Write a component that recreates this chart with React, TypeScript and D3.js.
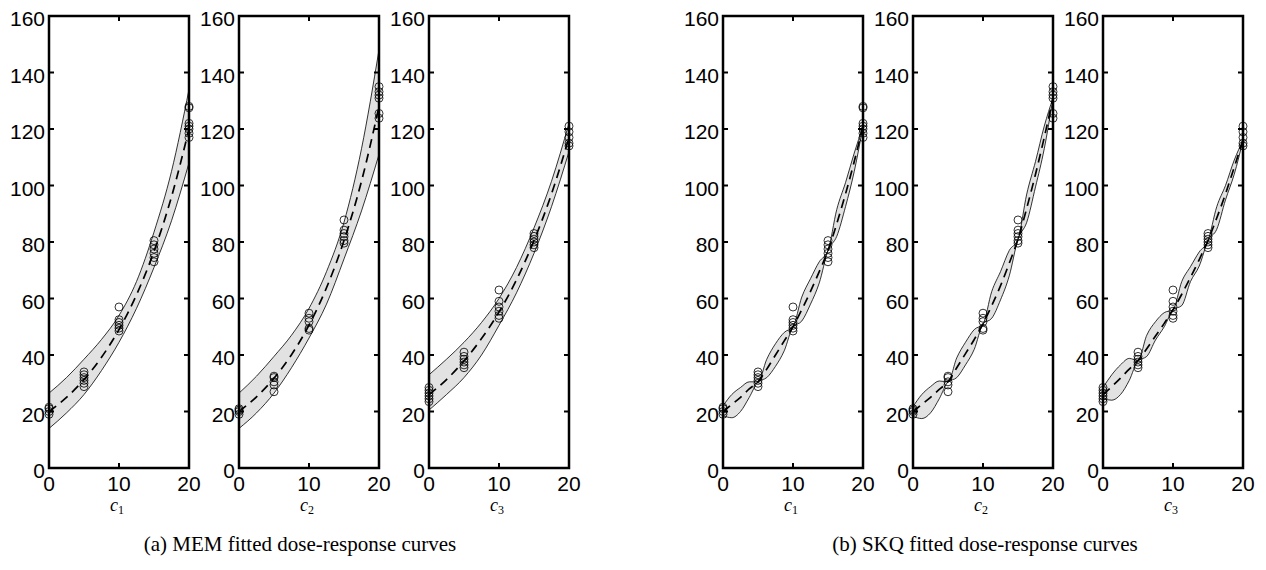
import React, { useRef, useEffect } from "react";
import * as d3 from "d3";

// observation doses
const doses = [0, 5, 10, 15, 20];

// observed responses per dose, one list per component
const obsC1 = [
  [19, 20, 21, 21.5],
  [28.8, 30, 31, 32, 33, 34],
  [48.5, 49.5, 50.5, 51.5, 52.5, 57],
  [73, 74.5, 76, 77.5, 79, 80.5],
  [117, 118.5, 120, 121, 122, 127.5, 128],
];
const obsC2 = [
  [19, 20, 20.5, 21],
  [27, 29.4, 30.5, 32, 32.5],
  [48.8, 49.4, 51.8, 53, 54.8],
  [79.6, 80.5, 81.9, 83, 84.2, 87.8],
  [123.8, 125.5, 130.9, 132, 133.2, 135],
];
const obsC3 = [
  [23.5, 24.5, 25.5, 26.5, 27.5, 28.5],
  [35.5, 36.5, 37.5, 38.5, 39.5, 41],
  [53, 54, 55.5, 57, 59, 63],
  [78, 79, 80, 81, 82, 83],
  [114, 115, 117, 119, 121],
];

// MEM fit, sampled at memX
const memX = [0, 2.5, 5, 7.5, 10, 12.5, 15, 17.5, 20];
const memMeanC1 = [20, 25, 31.3, 39.2, 49, 61.3, 76.7, 96, 120];
const memUpC1 = [26.5, 32, 38.5, 45.5, 54, 66, 83.5, 105, 134];
const memLoC1 = [14, 19.5, 26, 34.5, 44.5, 56.5, 71, 87.5, 108];
const memMeanC2 = [20, 25.2, 31.8, 40.1, 50.6, 63.8, 80.5, 101.5, 128];
const memUpC2 = [26.5, 32.5, 39.5, 47, 56.5, 69.5, 87, 113, 148];
const memLoC2 = [14, 19.5, 26.5, 35.5, 46, 58, 74, 91, 111];
const memMeanC3 = [26, 31.3, 37.9, 45.8, 55.2, 66.6, 80.5, 97, 117];
const memUpC3 = [33, 38.5, 44.5, 51.5, 60, 71, 85, 101.5, 122];
const memLoC3 = [20.5, 26, 32, 40, 50.5, 62, 76, 92.5, 112];

// SKQ fit, sampled at skqX
const skqX = [0, 1.25, 2.5, 3.75, 5, 6.25, 7.5, 8.75, 10, 11.25, 12.5, 13.75, 15, 16.25, 17.5, 18.75, 20];
const skqMeanC1 = [20, 22.5, 25, 28, 30.5, 35, 40, 45, 50, 56, 62.5, 69.5, 77, 86.5, 97, 108.5, 121];
const skqUpC1 = [22, 26, 28.5, 30.5, 30.5, 38.5, 44, 48, 50, 60.5, 67, 73, 77, 91.5, 101, 111.5, 121];
const skqLoC1 = [18.5, 17.8, 20, 25, 30.5, 32, 36, 41.5, 50, 52, 58, 65.5, 77, 82, 92.5, 105, 121];
const skqMeanC2 = [20, 22.5, 25, 27.8, 30.5, 35.5, 40.5, 45.5, 51, 57.5, 64.5, 72.5, 81, 92, 104, 117, 131];
const skqUpC2 = [21.7, 26, 28.8, 30.8, 30.5, 39, 44.5, 49, 51, 62.5, 69.5, 77, 81, 97, 108.5, 121, 131];
const skqLoC2 = [18.3, 17.5, 19.5, 24.5, 30.5, 32, 36.5, 42, 51, 53, 59.5, 68, 81, 87, 99.5, 113, 131];
const skqMeanC3 = [26, 28.8, 31.8, 35, 38, 42.2, 46.7, 51.2, 56, 61.5, 67.5, 73.8, 80.5, 88.5, 97, 106.5, 116];
const skqUpC3 = [28.5, 33, 36.5, 38.8, 38, 47, 51.8, 55, 56, 66, 71.3, 76.5, 80.5, 92.5, 100, 109, 116];
const skqLoC3 = [24.5, 24, 26, 31, 38, 39.5, 45.3, 50, 56, 57.5, 66, 71.5, 80.5, 84.5, 94.9, 104, 116];

const yTicks = [0, 20, 40, 60, 80, 100, 120, 140, 160];
const xTicks = [0, 10, 20];
const captions = ["(a) MEM fitted dose-response curves", "(b) SKQ fitted dose-response curves"];

const panels = [
  { left: 49, label: "1", obs: obsC1, gx: memX, mean: memMeanC1, up: memUpC1, lo: memLoC1 },
  { left: 239, label: "2", obs: obsC2, gx: memX, mean: memMeanC2, up: memUpC2, lo: memLoC2 },
  { left: 429, label: "3", obs: obsC3, gx: memX, mean: memMeanC3, up: memUpC3, lo: memLoC3 },
  { left: 723, label: "1", obs: obsC1, gx: skqX, mean: skqMeanC1, up: skqUpC1, lo: skqLoC1 },
  { left: 913, label: "2", obs: obsC2, gx: skqX, mean: skqMeanC2, up: skqUpC2, lo: skqLoC2 },
  { left: 1103, label: "3", obs: obsC3, gx: skqX, mean: skqMeanC3, up: skqUpC3, lo: skqLoC3 },
];

const TOP = 16;
const BOTTOM = 468;
const PW = 140;
const TICK = 5;
const SANS = "'Liberation Sans', Arial, Helvetica, sans-serif";
const SERIF = "'Liberation Serif', 'Times New Roman', serif";

const drawChart = (element) => {
  document.body.style.margin = "0";
  const svg = d3
    .select(element)
    .append("svg")
    .attr("width", 1266)
    .attr("height", 570)
    .style("display", "block")
    .style("background", "#fff");

  const y = d3.scaleLinear().domain([0, 160]).range([BOTTOM, TOP]);

  panels.forEach((p) => {
    const x = d3.scaleLinear().domain([0, 20]).range([p.left, p.left + PW]);
    const g = svg.append("g");
    const pts = p.gx.map((v, j) => ({ x: v, m: p.mean[j], u: p.up[j], l: p.lo[j] }));

    const area = d3
      .area()
      .x((d) => x(d.x))
      .y0((d) => y(d.l))
      .y1((d) => y(d.u))
      .curve(d3.curveMonotoneX);
    g.append("path").datum(pts).attr("d", area).attr("fill", "#e2e2e2").attr("stroke", "none");

    const edge = (key) =>
      d3
        .line()
        .x((d) => x(d.x))
        .y((d) => y(d[key]))
        .curve(d3.curveMonotoneX);
    ["u", "l"].forEach((k) =>
      g.append("path").datum(pts).attr("d", edge(k)).attr("fill", "none").attr("stroke", "#000").attr("stroke-width", 0.8)
    );
    g.append("path")
      .datum(pts)
      .attr("d", edge("m"))
      .attr("fill", "none")
      .attr("stroke", "#000")
      .attr("stroke-width", 1.7)
      .attr("stroke-dasharray", "9,6");

    p.obs.forEach((vals, j) => {
      vals.forEach((v) => {
        g.append("circle")
          .attr("cx", x(doses[j]))
          .attr("cy", y(v))
          .attr("r", 4)
          .attr("fill", "none")
          .attr("stroke", "#000")
          .attr("stroke-width", 0.8);
      });
    });

    // frame
    g.append("rect")
      .attr("x", p.left)
      .attr("y", TOP)
      .attr("width", PW)
      .attr("height", BOTTOM - TOP)
      .attr("fill", "none")
      .attr("stroke", "#000")
      .attr("stroke-width", 2.5);

    yTicks.forEach((t) => {
      g.append("line").attr("x1", p.left).attr("x2", p.left + TICK).attr("y1", y(t)).attr("y2", y(t)).attr("stroke", "#000").attr("stroke-width", 2);
      g.append("line").attr("x1", p.left + PW).attr("x2", p.left + PW - TICK).attr("y1", y(t)).attr("y2", y(t)).attr("stroke", "#000").attr("stroke-width", 2);
      g.append("text")
        .attr("x", p.left - 4)
        .attr("y", y(t) + 10)
        .attr("text-anchor", "end")
        .attr("font-family", SANS)
        .attr("font-size", 21)
        .text(t);
    });
    xTicks.forEach((t) => {
      g.append("line").attr("x1", x(t)).attr("x2", x(t)).attr("y1", BOTTOM).attr("y2", BOTTOM - TICK).attr("stroke", "#000").attr("stroke-width", 2);
      g.append("line").attr("x1", x(t)).attr("x2", x(t)).attr("y1", TOP).attr("y2", TOP + TICK).attr("stroke", "#000").attr("stroke-width", 2);
      g.append("text")
        .attr("x", x(t))
        .attr("y", 491)
        .attr("text-anchor", "middle")
        .attr("font-family", SANS)
        .attr("font-size", 21)
        .text(t);
    });

    const lab = g
      .append("text")
      .attr("x", x(10) - 2)
      .attr("y", 511)
      .attr("text-anchor", "middle")
      .attr("font-family", SERIF)
      .attr("font-style", "italic")
      .attr("font-size", 18);
    lab.append("tspan").text("c");
    lab.append("tspan").attr("dy", 3).attr("font-size", 12).attr("font-style", "normal").text(p.label);
  });

  captions.forEach((c, i) => {
    svg.append("text")
      .attr("x", i === 0 ? 300 : 985)
      .attr("y", 551)
      .attr("text-anchor", "middle")
      .attr("font-family", SERIF)
      .attr("font-size", 21)
      .text(c);
  });
};

const App = () => {
  const chartRef = useRef(null);

  useEffect(() => {
    if (chartRef.current && !chartRef.current.firstChild) drawChart(chartRef.current);
  }, []);

  return <div ref={chartRef}></div>;
};

export default App;
